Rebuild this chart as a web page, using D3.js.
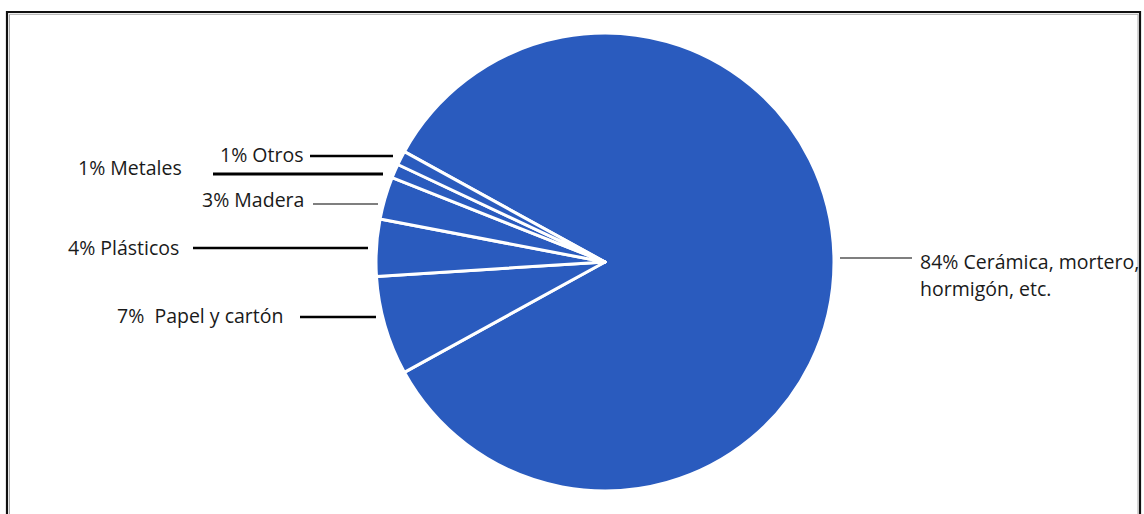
<!DOCTYPE html>
<html><head><meta charset="utf-8">
<script src="https://cdn.jsdelivr.net/npm/d3@7"></script>
<style>
html,body{margin:0;padding:0;background:#fff;}
svg text{font-family:"Open Sans","Noto Sans",sans-serif;font-size:19.5px;fill:#1a1a1a;}
</style></head>
<body>
<svg id="chart" width="1144" height="514"></svg>
<script>
// Data
const categories = ["Cerámica, mortero, hormigón, etc.", "Papel y cartón", "Plásticos", "Madera", "Metales", "Otros"];
const values = [84, 7, 4, 3, 1, 1];
const labelLines = [
  ["84% Cerámica, mortero,", "hormigón, etc."],
  ["7%  Papel y cartón"],
  ["4% Plásticos"],
  ["3% Madera"],
  ["1% Metales"],
  ["1% Otros"]
];

const svg = d3.select("#chart");
const W = 1144, H = 514;

// frame
svg.append("path").attr("d", `M7,${H} V12 H1140 V${H}`)
  .attr("fill", "none").attr("stroke", "#111").attr("stroke-width", 2.2);
svg.append("path").attr("d", `M9.5,${H} V14.3 H1138 V${H}`)
  .attr("fill", "none").attr("stroke", "#aaa").attr("stroke-width", 1);

const cx = 605, cy = 262, R = 229;
const total = d3.sum(values);
const smallFrac = (total - values[0]) / total;
const bigStart = Math.PI * 1.5 + smallFrac * Math.PI - 2 * Math.PI; // start of big slice

const pie = d3.pie().sort(null).value(d => d)
  .startAngle(bigStart).endAngle(bigStart + 2 * Math.PI);
const arcs = pie(values);
const arc = d3.arc().innerRadius(0).outerRadius(R);

const g = svg.append("g").attr("transform", `translate(${cx},${cy})`);
g.selectAll("path").data(arcs).join("path")
  .attr("d", arc)
  .attr("fill", "#2A5BBE")
  .attr("stroke", "#fff")
  .attr("stroke-width", 3)
  .attr("stroke-linejoin", "round");

// label layout (positions only)
const layout = [
  {tx: 920, ty: 261, x1: 840, x2: 912, ly: 258, sw: 1.2},
  {tx: 117, ty: 315, x1: 300, x2: 376, ly: 317, sw: 2.5},
  {tx: 68, ty: 247, x1: 193, x2: 368, ly: 248, sw: 2.5},
  {tx: 202, ty: 199, x1: 313, x2: 378, ly: 204, sw: 1.2},
  {tx: 78, ty: 167, x1: 213, x2: 383, ly: 174, sw: 2.8},
  {tx: 220, ty: 154, x1: 310, x2: 393, ly: 156, sw: 2.5}
];

const lg = svg.append("g");
arcs.forEach((a, i) => {
  const L = layout[i];
  lg.append("line").attr("x1", L.x1).attr("x2", L.x2)
    .attr("y1", L.ly).attr("y2", L.ly)
    .attr("stroke", "#000").attr("stroke-width", L.sw);
  const t = lg.append("text").attr("x", L.tx).attr("y", L.ty)
    .attr("dominant-baseline", "central").attr("text-anchor", "start");
  labelLines[i].forEach((s, j) => {
    t.append("tspan").attr("x", L.tx).attr("dy", j === 0 ? 0 : 27)
      .attr("xml:space", "preserve").text(s);
  });
});
</script>
</body></html>
